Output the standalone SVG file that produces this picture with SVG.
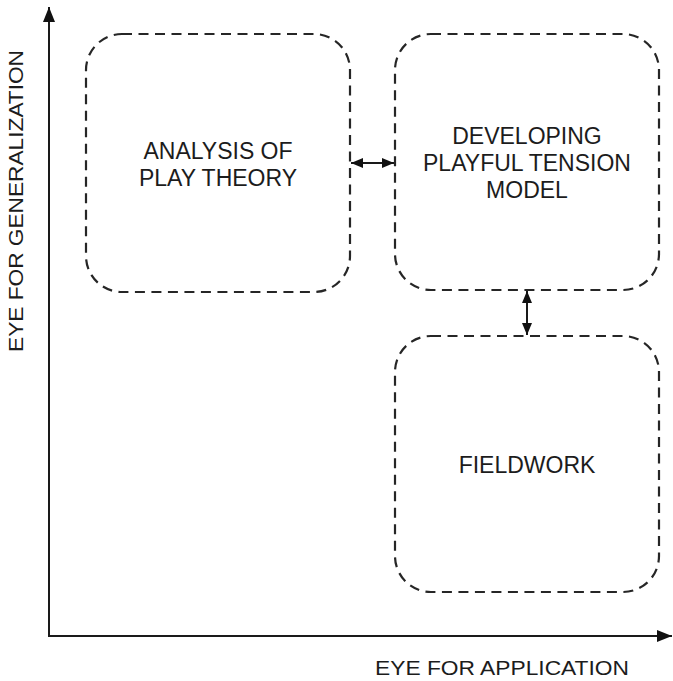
<svg xmlns="http://www.w3.org/2000/svg" width="673" height="681" viewBox="0 0 673 681">
  <defs>
    <style>
      .box { fill: none; stroke: #262626; stroke-width: 2.2; stroke-dasharray: 10 6.5; }
      .axis { fill: none; stroke: #1a1a1a; stroke-width: 2; }
      .link { fill: none; stroke: #1a1a1a; stroke-width: 2; }
      .label { font-family: "Liberation Sans", Arial, sans-serif; font-size: 23px; fill: #1c1c1c; text-anchor: middle; }
      .axis-label { font-family: "Liberation Sans", Arial, sans-serif; font-size: 20px; fill: #1c1c1c; text-anchor: middle; }
    </style>
    <marker id="head" viewBox="0 0 12 10" refX="12" refY="5" markerWidth="12" markerHeight="10" markerUnits="userSpaceOnUse" orient="auto-start-reverse">
      <path d="M0,0 L12,5 L0,10 Z" fill="#111"/>
    </marker>
    <marker id="axis-head" viewBox="0 0 15 12" refX="15" refY="6" markerWidth="15" markerHeight="12" markerUnits="userSpaceOnUse" orient="auto">
      <path d="M0,0 L15,6 L0,12 Z" fill="#111"/>
    </marker>
  </defs>

  <!-- axes -->
  <g id="axes">
    <path class="axis" d="M49,636 L49,7" marker-end="url(#axis-head)"/>
    <path class="axis" d="M48,636 L672,636" marker-end="url(#axis-head)"/>
    <text class="axis-label" transform="translate(23,201) rotate(-90)" x="0" y="0" textLength="302" lengthAdjust="spacingAndGlyphs">EYE FOR GENERALIZATION</text>
    <text class="axis-label" x="502" y="675" textLength="254" lengthAdjust="spacingAndGlyphs">EYE FOR APPLICATION</text>
  </g>

  <!-- nodes -->
  <g id="play-theory">
    <rect class="box" x="86" y="34" width="264" height="258" rx="36" ry="36"/>
    <text class="label" x="218" y="159">ANALYSIS OF</text>
    <text class="label" x="218" y="186">PLAY THEORY</text>
  </g>

  <g id="tension-model">
    <rect class="box" x="395" y="34" width="264" height="256" rx="36" ry="36"/>
    <text class="label" x="527" y="144">DEVELOPING</text>
    <text class="label" x="527" y="171">PLAYFUL TENSION</text>
    <text class="label" x="527" y="198">MODEL</text>
  </g>

  <g id="fieldwork">
    <rect class="box" x="395" y="336" width="264" height="256" rx="36" ry="36"/>
    <text class="label" x="527" y="473">FIELDWORK</text>
  </g>

  <!-- connectors -->
  <g id="connectors">
    <path class="link" d="M351,163 L394,163" marker-start="url(#head)" marker-end="url(#head)"/>
    <path class="link" d="M527,291 L527,335" marker-start="url(#head)" marker-end="url(#head)"/>
  </g>
</svg>
